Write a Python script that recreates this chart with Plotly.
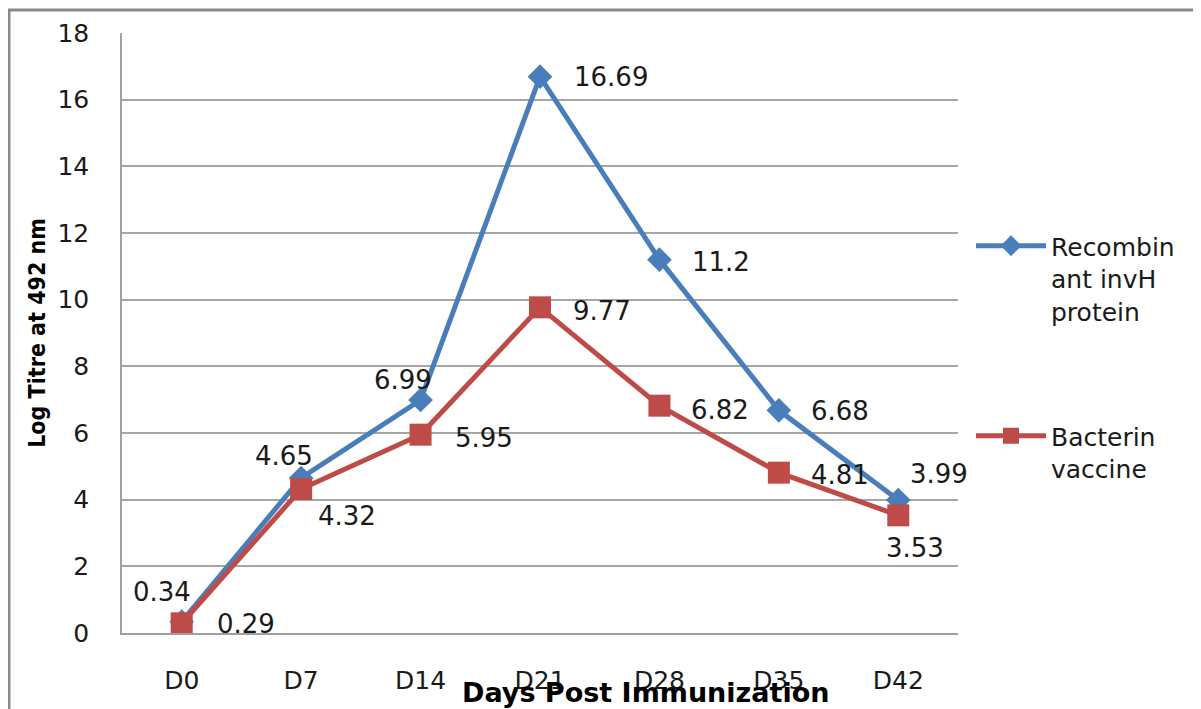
import plotly.graph_objects as go

days = ["D0", "D7", "D14", "D21", "D28", "D35", "D42"]
recombinant = [0.34, 4.65, 6.99, 16.69, 11.2, 6.68, 3.99]
bacterin = [0.29, 4.32, 5.95, 9.77, 6.82, 4.81, 3.53]
series_names = ["Recombin<br>ant invH<br>protein", "Bacterin<br>vaccine"]
y_ticks = [0, 2, 4, 6, 8, 10, 12, 14, 16, 18]

BLUE = "#4A7EBB"
RED = "#BE4B48"
FONT = "DejaVu Sans"
TXT = "#1a1a1a"

# page body has an 8px margin; work in figure pixels
OFF = 8
L, T = 122 - OFF, 33 - OFF
PW, PH = 836, 600
W, H = 1201 - OFF, 709 - OFF


def px_x(px):
    return (px - OFF - L) / PW


def px_y(py):
    return (T + PH - (py - OFF)) / PH


# label offsets in pixels (dx, dy) relative to marker centre, dy positive = up
blue_off = [(-20, 30), (-17, 22), (-18, 20), (71, 0), (62, -2), (61, -1), (41, 26)]
red_off = [(64, -1), (46, -27), (63, -3), (62, -4), (61, -4), (61, -2), (17, -33)]

fig = go.Figure()
fig.add_trace(go.Scatter(
    x=days, y=recombinant, name=series_names[0], mode="lines+markers",
    line=dict(color=BLUE, width=5),
    marker=dict(symbol="diamond", size=19, color=BLUE),
    legend="legend",
))
fig.add_trace(go.Scatter(
    x=days, y=bacterin, name=series_names[1], mode="lines+markers",
    line=dict(color=RED, width=5),
    marker=dict(symbol="square", size=22, color=RED),
    legend="legend2",
))

for vals, offs in ((recombinant, blue_off), (bacterin, red_off)):
    for d, v, (dx, dy) in zip(days, vals, offs):
        fig.add_annotation(
            x=d, y=v, xref="x", yref="y", text=f"{v:g}", showarrow=False,
            xanchor="center", yanchor="middle", xshift=dx, yshift=dy,
            font=dict(family=FONT, size=26, color=TXT),
        )

fig.add_annotation(
    text="<b>Days Post Immunization</b>", xref="paper", yref="paper",
    x=px_x(645), y=px_y(692), xanchor="center", yanchor="middle",
    showarrow=False, font=dict(family=FONT, size=27, color="#000000"),
)

# outer chart frame
fig.add_shape(
    type="rect", xref="paper", yref="paper",
    x0=px_x(9), x1=px_x(1240),
    y0=px_y(750), y1=px_y(10),
    line=dict(color="#8a8a8a", width=3), fillcolor="rgba(0,0,0,0)", layer="below",
)

legend_common = dict(
    font=dict(family=FONT, size=25, color=TXT),
    bgcolor="rgba(0,0,0,0)", borderwidth=0,
    xanchor="left", yanchor="top", valign="top",
    itemwidth=70, itemclick=False,
)

fig.update_layout(
    width=W, height=H,
    margin=dict(l=L, r=W - L - PW, t=T, b=H - T - PH),
    paper_bgcolor="white", plot_bgcolor="white",
    showlegend=True,
    legend=dict(x=px_x(971), y=px_y(223), **legend_common),
    legend2=dict(x=px_x(971), y=px_y(413), **legend_common),
    xaxis=dict(
        type="category", range=[-0.5, 6.5],
        showgrid=False, showline=True, linecolor="#a0a0a0", linewidth=1.5,
        ticks="", ticklabelstandoff=24,
        tickfont=dict(family=FONT, size=25, color=TXT),
    ),
    yaxis=dict(
        range=[0, 18], tickvals=y_ticks,
        showgrid=True, gridcolor="#a6a6a6", gridwidth=1.5,
        zeroline=False, showline=True, linecolor="#a0a0a0", linewidth=1.5,
        ticks="", ticklabelstandoff=26,
        tickfont=dict(family=FONT, size=25, color=TXT),
        title=dict(text="<b>Log Titre at 492 nm</b>", standoff=5,
                   font=dict(family="DejaVu Sans Condensed", size=23, color="#000000")),
    ),
)

fig.write_html("out.html")
